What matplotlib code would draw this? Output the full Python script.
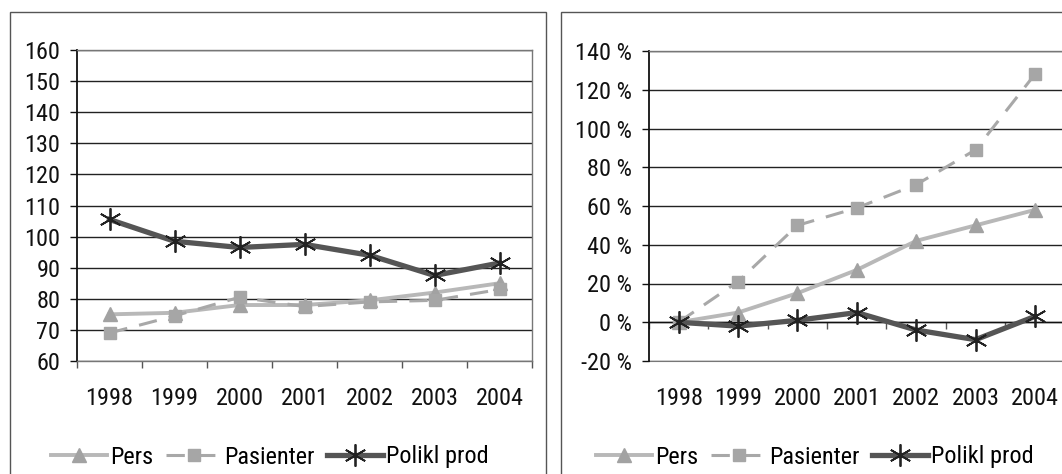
import matplotlib
matplotlib.use("Agg")
import matplotlib.pyplot as plt
from matplotlib import font_manager as fm
from matplotlib.patches import Rectangle
from matplotlib.ticker import FixedLocator, NullFormatter

# pick a narrow font if available
_names = {f.name for f in fm.fontManager.ttflist}
_family = 'DejaVu Sans'
_stretch = 'normal'
for cand in ['Liberation Sans Narrow', 'Arial Narrow', 'Roboto Condensed', 'Open Sans Condensed']:
    if cand in _names:
        _family = cand
        break
else:
    if any(f.name == 'DejaVu Sans' and str(f.stretch) in ('condensed', 'semi-condensed') for f in fm.fontManager.ttflist):
        _stretch = 'condensed'
plt.rcParams['font.family'] = [_family, 'DejaVu Sans']
plt.rcParams['font.stretch'] = _stretch

years = ['1998', '1999', '2000', '2001', '2002', '2003', '2004']

# Left panel: index values
left_pers = [75, 75.5, 78, 78, 79.5, 82, 85]
left_pasienter = [69, 74.5, 80.5, 77.5, 79, 79.5, 83]
left_polikl = [105.5, 98.5, 96.5, 97.5, 94, 87.5, 91.5]
left_yticks = [60, 70, 80, 90, 100, 110, 120, 130, 140, 150, 160]

# Right panel: percent change
right_pers = [0, 5, 15, 27, 42, 50, 58]
right_pasienter = [0, 21, 50, 59, 71, 89, 128]
right_polikl = [0, -2, 1, 5, -4, -9, 3]
right_yticks = [-20, 0, 20, 40, 60, 80, 100, 120, 140]
right_yticklabels = ['-20 %', '0 %', '20 %', '40 %', '60 %', '80 %', '100 %', '120 %', '140 %']

series_names = ['Pers', 'Pasienter', 'Polikl prod']

W, H = 1062, 474
fig = plt.figure(figsize=(W / 100, H / 100), dpi=100)

FS = 17.5 if _family != 'DejaVu Sans' else 15.0


def px_rect(x0, y0, x1, y1):
    return [x0 / W, 1 - y1 / H, (x1 - x0) / W, (y1 - y0) / H]


# panel frames
for (fx0, fx1) in [(10, 546), (561, 1100)]:
    fig.patches.append(Rectangle((fx0 / W, -0.05), (fx1 - fx0) / W, 1 - 11.7 / H + 0.05,
                                 transform=fig.transFigure, fill=False,
                                 ec='#555555', lw=1.0, zorder=0))


def draw(ax, pers, pas, pol):
    x = list(range(len(years)))
    ax.plot(x, pers, color='#b8b8b8', lw=2.8, marker='^', ms=10,
            mfc='#a2a2a2', mec='#a2a2a2', label=series_names[0], zorder=3)
    ax.plot(x, pas, color='#a8a8a8', lw=2.2, ls=(0, (6, 4)), marker='s', ms=9,
            mfc='#a6a6a6', mec='#a6a6a6', label=series_names[1], zorder=3)
    ax.plot(x, pol, color='#555555', lw=3.8, marker=(6, 2, 0), ms=16,
            mec='#222222', mew=1.3, label=series_names[2], zorder=4)
    ax.set_xlim(-0.5, len(years) - 0.5)
    ax.grid(axis='y', color='#222222', lw=1.0)
    ax.set_axisbelow(True)
    for s in ['top', 'right', 'bottom']:
        ax.spines[s].set_color('#777777')
        ax.spines[s].set_linewidth(1.0)
    ax.spines['left'].set_color('#111111')
    ax.spines['left'].set_linewidth(1.3)
    ax.tick_params(axis='y', length=5, width=1, pad=7, labelsize=FS, colors='#111111')


legend_kw = dict(loc='center', bbox_transform=fig.transFigure, ncol=3, frameon=False,
                 fontsize=FS, handlelength=2.3, handletextpad=0.12, columnspacing=0.5,
                 borderpad=0)

# ---------- Left ----------
axL = fig.add_axes(px_rect(77, 50, 532, 361))
draw(axL, left_pers, left_pasienter, left_polikl)
axL.set_ylim(left_yticks[0], left_yticks[-1])
axL.set_yticks(left_yticks)
axL.xaxis.set_major_locator(FixedLocator([i - 0.5 for i in range(len(years) + 1)]))
axL.xaxis.set_major_formatter(NullFormatter())
axL.set_xticks(range(len(years)), minor=True)
axL.set_xticklabels(years, minor=True)
axL.tick_params(axis='x', which='major', length=5, width=1, color='#555555')
axL.tick_params(axis='x', which='minor', length=0, pad=19, labelsize=FS, labelcolor='#111111')
axL.legend(bbox_to_anchor=(270 / W, 1 - 457 / H), **legend_kw)

# ---------- Right ----------
axR = fig.add_axes(px_rect(649, 51, 1064.6, 361))
draw(axR, right_pers, right_pasienter, right_polikl)
axR.set_ylim(right_yticks[0], right_yticks[-1])
axR.set_yticks(right_yticks)
axR.set_yticklabels(right_yticklabels)
axR.spines['bottom'].set_position(('data', 0))
axR.spines['bottom'].set_color('#111111')
axR.xaxis.set_major_locator(FixedLocator([i - 0.5 for i in range(len(years) + 1)]))
axR.xaxis.set_major_formatter(NullFormatter())
axR.tick_params(axis='x', which='major', length=5, width=1, color='#555555')
sec = axR.secondary_xaxis(0.0)
sec.set_xticks(range(len(years)))
sec.set_xticklabels(years)
sec.tick_params(axis='x', length=0, pad=19, labelsize=FS, labelcolor='#111111')
sec.spines['bottom'].set_color('#777777')
axR.legend(bbox_to_anchor=(815 / W, 1 - 457 / H), **legend_kw)

fig.savefig('out.png', dpi=100)
